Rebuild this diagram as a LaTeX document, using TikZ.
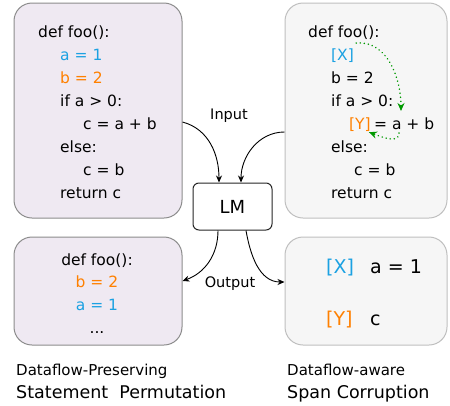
\documentclass[tikz,border=0pt]{standalone}
\usepackage{fontspec}
\setmainfont{DejaVu Sans}
\usetikzlibrary{arrows.meta}
\definecolor{lav}{HTML}{EFE9F2}
\definecolor{lgray}{HTML}{F6F6F6}
\definecolor{cblue}{HTML}{1BA1E2}
\definecolor{corange}{HTML}{FF8000}
\definecolor{cgreen}{HTML}{009900}
\tikzset{
  leftbox/.style={draw=black!45, fill=lav, rounded corners=18pt, line width=1pt},
  rightbox/.style={draw=black!25, fill=lgray, rounded corners=18pt, line width=1pt},
  lmbox/.style={draw=black!85, fill=white, rounded corners=6pt, line width=1pt, minimum width=79pt, minimum height=47pt, inner sep=0pt},
  code/.style={anchor=base west, inner sep=0pt, font=\fontsize{15.5}{18}\selectfont},
  bigcode/.style={anchor=base west, inner sep=0pt, font=\fontsize{19}{22}\selectfont},
  captxt/.style={anchor=base west, inner sep=0pt, font=\fontsize{15}{18}\selectfont},
  capbig/.style={anchor=base west, inner sep=0pt, font=\fontsize{17.5}{20}\selectfont},
  lbl/.style={inner sep=0pt, font=\fontsize{14.5}{16}\selectfont},
  conn/.style={-{Stealth[length=7pt,width=6pt]}, line width=0.9pt},
  gconn/.style={cgreen, line width=1.6pt, dash pattern=on 0.1pt off 4pt, line cap=round, -{Stealth[length=8pt,width=7pt,fill=cgreen]}},
}
\begin{document}
\begin{tikzpicture}[x=1pt,y=-1pt]
\useasboundingbox (0,0) rectangle (450,405);
% boxes
\node[leftbox, minimum width=168pt, minimum height=215pt, inner sep=0pt] (tl) at (98,110.5) {};
\node[rightbox, minimum width=162pt, minimum height=215pt, inner sep=0pt] (tr) at (366,110.5) {};
\node[leftbox, minimum width=168pt, minimum height=108pt, inner sep=0pt] (bl) at (98,291) {};
\node[rightbox, minimum width=162pt, minimum height=108pt, inner sep=0pt] (br) at (366,291) {};
\node[lmbox, font=\fontsize{18}{20}\selectfont] (lm) at (232.5,206.5) {LM};
% top-left code
\node[code] (l1) at (38,37) {def foo():};
\node[code, text=cblue] (l2) at (60,60) {a = 1};
\node[code, text=corange] (l3) at (60,83) {b = 2};
\node[code] (l4) at (60,106) {if a > 0:};
\node[code] (l5) at (83,129) {c = a + b};
\node[code] (l6) at (60,152) {else:};
\node[code] (l7) at (83,175) {c = b};
\node[code] (l8) at (60,198) {return c};
% top-right code
\node[code] (r1) at (308,37) {def foo():};
\node[code, text=cblue] (rx) at (331,60) {[X]};
\node[code] (r3) at (331,83) {b = 2};
\node[code] (r4) at (331,106) {if a > 0:};
\node[code, text=corange] (ry) at (349,129) {[Y]};
\node[code, anchor=base west] (r5) at ([xshift=3pt]ry.base east) {= a + b};
\node[code] (r6) at (331,152) {else:};
\node[code] (r7) at (354,175) {c = b};
\node[code] (r8) at (331,198) {return c};
% bottom-left code
\node[code, anchor=base] (b1) at (97,265) {def foo():};
\node[code, anchor=base, text=corange] (b2) at (97,287) {b = 2};
\node[code, anchor=base, text=cblue] (b3) at (97,310) {a = 1};
\node[code, anchor=base] (b4) at (97,333) {...};
% bottom-right
\node[bigcode, text=cblue] (bx) at (326,273) {[X]};
\node[bigcode] (ba) at (370,273) {a = 1};
\node[bigcode, text=corange] (by) at (326,325) {[Y]};
\node[bigcode] (bc) at (370,325) {c};
% labels
\node[lbl] (inp) at (229,116) {Input};
\node[lbl] (outp) at (230,284) {Output};
% captions
\node[captxt] (c1) at (16,375) {Dataflow-Preserving};
\node[capbig] (c2) at (16,398) {Statement\ \ Permutation};
\node[captxt] (c3) at (287,375) {Dataflow-aware};
\node[capbig] (c4) at (287,398) {Span Corruption};
% connectors
\draw[conn] ([yshift=-11.5pt]tl.east) to[out=-15,in=90] ([xshift=-13.5pt]lm.north);
\draw[conn] ([yshift=-21.5pt]tr.west) to[out=180,in=90] ([xshift=8.5pt]lm.north);
\draw[conn] ([xshift=-14.5pt]lm.south) to[out=-90,in=20] ([yshift=10pt]bl.east);
\draw[conn] ([xshift=13.5pt]lm.south) to[out=-80,in=180] ([yshift=9pt]br.west);
% green dataflow arrows
\coordinate (g1) at (401,111);
\coordinate (g2) at (399,133);
\draw[gconn] ([xshift=2pt,yshift=5pt]rx.north east) to[out=5,in=90] (g1);
\draw[gconn] (g2) to[out=-90,in=-20] ([xshift=-2pt,yshift=-1pt]ry.south east);
\end{tikzpicture}
\end{document}
